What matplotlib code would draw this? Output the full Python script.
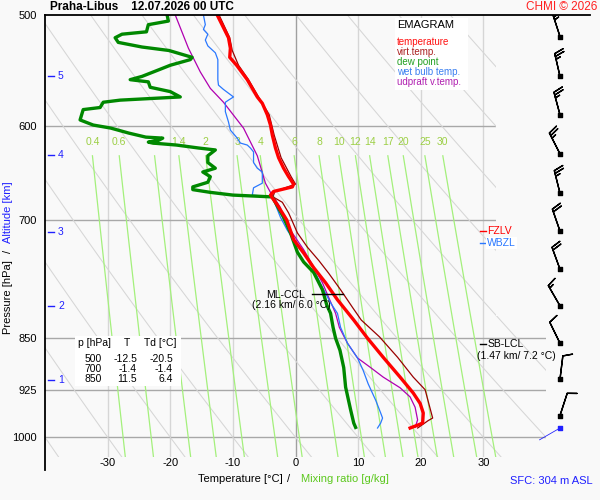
import numpy as np
import matplotlib
matplotlib.use('Agg')
import matplotlib.pyplot as plt
from matplotlib.lines import Line2D
from matplotlib.patches import Polygon, Rectangle
import matplotlib.transforms as mtransforms
from matplotlib.ticker import NullLocator

plt.rcParams['font.family'] = ['Liberation Sans', 'DejaVu Sans']

# ---------------- data ----------------
temp_p = [500, 519, 528, 536, 543, 556, 572, 578, 589, 599, 609, 622, 632, 643, 652,
          660, 663, 668, 672, 675, 683, 692, 700, 723, 739, 757, 776, 798, 825, 850,
          877, 906, 930, 946, 961, 977, 980, 985]
temp_t = [-12.5, -10.7, -10.4, -10.5, -9.4, -7.7, -6.1, -5.3, -4.5, -4.0, -3.7, -3.2, -2.7, -1.9, -1.1,
          -0.3, -0.5, -3.5, -4.0, -3.7, -2.9, -2.1, -1.4, -0.3, 1.3, 2.9, 4.8, 6.7, 9.3, 11.5,
          14.0, 16.7, 18.8, 19.9, 20.4, 20.3, 19.6, 18.3]

tv_p = [500, 519, 530, 543, 556, 572, 589, 609, 632, 652, 660, 668, 674, 680, 692,
        700, 715, 732, 748, 764, 785, 808, 825, 848, 877, 906, 925, 969, 973, 985]
tv_t = [-12.2, -10.5, -10.1, -9.1, -7.5, -5.9, -4.2, -3.4, -2.3, -0.7, 0.0, -3.3, -3.6, -2.1, -1.1,
        -0.6, 0.3, 1.9, 3.7, 5.3, 7.2, 9.1, 10.5, 13.4, 16.3, 18.8, 20.7, 21.9, 21.2, 19.5]

td_p = [500, 505, 508, 514, 516, 519, 523, 527, 530, 536, 538, 543, 547, 553, 556,
        558, 563, 567, 572, 573, 575, 577, 582, 584, 594, 599, 602, 607, 611, 612,
        614, 616, 617, 619, 622, 624, 630, 637, 643, 647, 652, 658, 663, 666, 669,
        672, 674, 697, 715, 738, 750, 763, 785, 805, 816, 835, 850, 867, 892, 921,
        956, 977, 984]
td_t = [-20.5, -20.3, -23.5, -23.8, -27.7, -28.8, -28.3, -24.5, -20.2, -16.5, -16.8, -20.0, -21.8, -24.5, -26.4,
        -23.5, -23.2, -20.0, -18.4, -21.6, -28.0, -30.7, -31.2, -33.9, -34.4, -32.3, -29.5, -26.6, -23.9, -21.2,
        -21.8, -23.5, -22.8, -19.0, -15.5, -12.8, -14.0, -14.0, -12.8, -14.8, -13.6, -14.0, -16.4, -16.4, -13.6,
        -10.0, -3.7, -1.9, -0.8, 0.3, 1.3, 2.9, 4.3, 5.0, 5.6, 6.0, 6.4, 7.1, 7.7, 8.0,
        8.8, 9.3, 9.6]

wb_p = [500, 508, 512, 516, 521, 526, 532, 538, 556, 561, 565, 572, 575, 577, 586,
        596, 604, 612, 617, 619, 622, 626, 637, 643, 647, 659, 664, 672, 674, 697,
        712, 723, 735, 751, 769, 785, 802, 816, 835, 857, 878, 896, 916, 941, 961,
        969, 977, 985]
wb_t = [-14.7, -14.4, -14.7, -14.0, -14.4, -14.0, -12.8, -12.4, -12.4, -12.3, -11.5, -9.9, -10.7, -11.2, -11.2,
        -10.7, -10.4, -9.3, -8.8, -7.7, -7.2, -6.7, -6.7, -6.1, -5.3, -5.3, -6.7, -6.9, -3.7, -2.4,
        -1.3, -0.3, 0.8, 2.4, 3.5, 4.5, 5.6, 6.7, 7.2, 8.3, 9.9, 10.8, 11.6, 12.8, 13.6,
        13.9, 13.6, 13.1]

upd_p = [500, 528, 549, 564, 577, 602, 630, 659, 669, 674, 686, 700, 712, 735, 756,
         776, 795, 816, 835, 857, 878, 892, 906, 922, 936, 952, 972, 984]
upd_t = [-19.2, -17.1, -15.2, -13.6, -11.5, -8.3, -6.1, -4.8, -4.0, -3.5, -2.4, -1.9, -0.8, 1.3, 2.9,
         4.3, 5.3, 6.4, 7.0, 8.3, 9.9, 12.0, 14.0, 16.7, 18.3, 19.1, 19.5, 19.1]

# wind (barbs)
wind_p = [518, 553, 589, 628, 670, 713, 759, 806, 857, 909, 965]
wind_dir = [342, 347, 345, 333, 346, 341, 340, 330, 334, 7, 18]
wind_spd = [25, 25, 25, 25, 25, 20, 20, 15, 10, 10, 10]
sfc_wind_p = 985
sfc_wind_dir = 240
sfc_wind_spd = 3

# axes ticks / reference lines
pressure_ticks = [500, 600, 700, 850, 925, 1000]
temp_ticks = [-30, -20, -10, 0, 10, 20, 30]
mixing_ratios = [0.4, 0.6, 1, 1.4, 2, 3, 4, 6, 8, 10, 12, 14, 17, 20, 25, 30]
mixing_labels = ['0.4', '0.6', '1', '1.4', '2', '3', '4', '6', '8', '10', '12', '14', '17', '20', '25', '30']
dry_thetas = list(range(-40, 101, 10))

alt_km = [1, 2, 3, 4, 5]
alt_p = [911, 806, 714, 629, 553]

table_p = [500, 700, 850]
table_t = [-12.5, -1.4, 11.5]
table_td = [-20.5, -1.4, 6.4]

ccl_p = 791
ccl_text = '(2.16 km/ 6.0 °C)'
lcl_p = 858
lcl_text = '(1.47 km/ 7.2 °C)'
fzlv_p = 713
wbzl_p = 727

# ---------------- figure ----------------
W, H = 600, 500
def fx(px):
    return px / W
def fy(py):
    return 1 - py / H

bg = '#f9f9f9'
fig = plt.figure(figsize=(6, 5), dpi=100)
fig.patch.set_facecolor(bg)

ax = fig.add_axes([fx(45), fy(457), fx(546) - fx(45), fy(15) - fy(457)])
ax.set_facecolor('none')
ax.set_yscale('log')
ax.set_xlim(-40, 40)
ax.set_ylim(1033, 500)
for s in ax.spines.values():
    s.set_visible(False)
ax.yaxis.set_minor_locator(NullLocator())
ax.set_yticks(pressure_ticks)
ax.set_yticklabels([str(p) for p in pressure_ticks])
ax.set_xticks(temp_ticks)
ax.set_xticklabels([str(t) for t in temp_ticks])
ax.tick_params(axis='y', length=0, labelsize=8, pad=6)
ax.tick_params(axis='x', length=0, labelsize=8, pad=1)

clip = Polygon([(-40, 500), (32, 500), (32, 820), (40, 820), (40, 1033), (-40, 1033)],
               closed=True, transform=ax.transData, facecolor='none', edgecolor='none')
ax.add_patch(clip)

# vertical grid
for t in temp_ticks:
    ax.axvline(t, color='#a0a0a0' if t == 0 else '#d6d6d6', lw=1.0, zorder=1)
# horizontal grid
for p in pressure_ticks[1:]:
    ln = ax.axhline(p, color='#a8a8a8', lw=1.0, zorder=1)
    ln.set_clip_path(clip)

# dry adiabats
pp = np.geomspace(500, 1033, 120)
for th in dry_thetas:
    tt = (th + 273.15) * (pp / 1000.0) ** 0.286 - 273.15
    l, = ax.plot(tt, pp, color='#d6d6d6', lw=0.75, zorder=1)
    l.set_clip_path(clip)

# mixing ratio lines
def td_from_w(w, p):
    e = w * p / (622.0 + w)
    a = np.log(e / 6.112)
    return 243.5 * a / (17.67 - a)

pm = np.geomspace(630, 1033, 50)
for w, lab in zip(mixing_ratios, mixing_labels):
    l, = ax.plot(td_from_w(w, pm), pm, color='#a4f07c', lw=0.9, zorder=1.5)
    l.set_clip_path(clip)
    ax.text(td_from_w(w, 630), 616, lab, color='#9ccf45', fontsize=7.5,
            ha='center', va='center', zorder=2)

# profiles
ax.plot(tv_t, tv_p, color='#9a0000', lw=0.9, zorder=3)
ax.plot(upd_t, upd_p, color='#b000b0', lw=0.9, zorder=3)
ax.plot(wb_t, wb_p, color='#2a78ff', lw=0.9, zorder=3)
ax.plot(td_t, td_p, color='#008800', lw=2.4, zorder=4, solid_joinstyle='round')
ax.plot(temp_t, temp_p, color='#ff0000', lw=2.4, zorder=5, solid_joinstyle='round')

# altitude marks
btr = mtransforms.blended_transform_factory(ax.transAxes, ax.transData)
for km, p in zip(alt_km, alt_p):
    ax.plot([0.006, 0.017], [p, p], color='#2020ff', lw=1.0, transform=btr, zorder=6)
    ax.text(0.026, p, str(km), color='#2020ff', fontsize=7.5, ha='left', va='center',
            transform=btr, zorder=6)

# ML-CCL
ax.plot([2.6, 7.6], [ccl_p, ccl_p], color='black', lw=1.0, zorder=6)
ax.text(-1.6, 792, 'ML-CCL', fontsize=7.5, ha='center', va='center', zorder=6)
ax.text(-0.6, 805, ccl_text, fontsize=7.5, ha='center', va='center', zorder=6)

# SB-LCL
ax.plot([29.5, 30.4], [lcl_p, lcl_p], color='black', lw=1.0, zorder=6, clip_on=False)
ax.text(30.7, lcl_p, 'SB-LCL', fontsize=7.5, ha='left', va='center', zorder=6)
ax.text(35.2, 875, lcl_text, fontsize=7.5, ha='center', va='center', zorder=6)

# FZLV / WBZL
ax.plot([29.5, 30.4], [fzlv_p, fzlv_p], color='red', lw=1.0, zorder=6)
ax.text(30.6, fzlv_p, 'FZLV', color='red', fontsize=7.5, ha='left', va='center', zorder=6)
ax.plot([29.5, 30.4], [wbzl_p, wbzl_p], color='#2a78ff', lw=1.0, zorder=7)
ax.text(30.6, wbzl_p, 'WBZL', color='#2a78ff', fontsize=7.5, ha='left', va='center', zorder=7,
        bbox=dict(facecolor='white', edgecolor='none', pad=0.5))

# frame lines
fig.add_artist(Line2D([fx(45), fx(45)], [fy(15), fy(470)], color='black', lw=1.3))
fig.add_artist(Line2D([fx(45), fx(590)], [fy(15), fy(15)], color='black', lw=1.3))

# wind barbs
axw = fig.add_axes([fx(520), fy(457), fx(600) - fx(520), fy(15) - fy(457)])
axw.set_yscale('log')
axw.set_ylim(1033, 500)
axw.set_xlim(0, 1)
axw.axis('off')
axw.patch.set_visible(False)
d = np.deg2rad(wind_dir)
u = -np.array(wind_spd) * np.sin(d)
v = -np.array(wind_spd) * np.cos(d)
xb = np.full(len(wind_p), 0.5)
axw.barbs(xb, wind_p, u, v, length=5.8, color='black', linewidth=1.0)
axw.scatter(xb, wind_p, marker='s', s=7, color='black', zorder=5)
ds = np.deg2rad(sfc_wind_dir)
us = -sfc_wind_spd * np.sin(ds)
vs = -sfc_wind_spd * np.cos(ds)
axw.quiver([0.5], [sfc_wind_p], [-us], [-vs], angles='uv', pivot='tail',
           scale_units='inches', units='inches', scale=sfc_wind_spd / 0.24, width=0.008,
           headwidth=0, headlength=0, headaxislength=0, color='#2020ff')
axw.scatter([0.5], [sfc_wind_p], marker='s', s=7, color='#2020ff', zorder=5)

# legend box
fig.add_artist(Rectangle((fx(395), fy(90)), fx(468) - fx(395), fy(18) - fy(90),
                         transform=fig.transFigure, facecolor='white', edgecolor='none', zorder=8))
fig.text(fx(397), fy(25), 'EMAGRAM', fontsize=8, ha='left', va='center', zorder=9)
leg = [('temperature', '#ff1010'), ('virt.temp.', '#aa2020'), ('dew point', '#22a022'),
       ('wet bulb temp.', '#3a7ff0'), ('udpraft v.temp.', '#b020b0')]
for i, (txt, col) in enumerate(leg):
    fig.text(fx(397), fy(42 + 10 * i), txt, color=col, fontsize=7, ha='left', va='center', zorder=9)

# table
fig.add_artist(Rectangle((fx(75), fy(386)), fx(181) - fx(75), fy(336) - fy(386),
                         transform=fig.transFigure, facecolor='white', edgecolor='none', zorder=8))
fig.text(fx(78), fy(343), 'p [hPa]', fontsize=7.5, ha='left', va='center', zorder=9)
fig.text(fx(127), fy(343), 'T', fontsize=7.5, ha='center', va='center', zorder=9)
fig.text(fx(144), fy(343), 'Td [°C]', fontsize=7.5, ha='left', va='center', zorder=9)
for i, (p, t, td) in enumerate(zip(table_p, table_t, table_td)):
    yy = fy(359 + 10 * i)
    fig.text(fx(102), yy, str(p), fontsize=7.5, ha='right', va='center', zorder=9)
    fig.text(fx(137), yy, f'{t:.1f}', fontsize=7.5, ha='right', va='center', zorder=9)
    fig.text(fx(173), yy, f'{td:.1f}', fontsize=7.5, ha='right', va='center', zorder=9)

# titles / labels
fig.text(fx(50), fy(7), 'Praha-Libus    12.07.2026 00 UTC', fontsize=8.5, weight='bold',
         ha='left', va='center')
fig.text(fx(597), fy(7), 'CHMI © 2026', fontsize=8.5, color='#ff2020', ha='right', va='center')
fig.text(fx(8), fy(297), 'Pressure [hPa]', fontsize=8, rotation=90, ha='center', va='center')
fig.text(fx(8), fy(251), '/', fontsize=8, rotation=90, ha='center', va='center')
fig.text(fx(8), fy(212), 'Altitude [km]', fontsize=8, rotation=90, ha='center', va='center',
         color='#2020ff')
fig.text(fx(240), fy(479), 'Temperature [°C]', fontsize=8, ha='center', va='center')
fig.text(fx(289), fy(479), '/', fontsize=8, ha='center', va='center')
fig.text(fx(345), fy(479), 'Mixing ratio [g/kg]', fontsize=8, ha='center', va='center',
         color='#5cc81e')
fig.text(fx(551), fy(481), 'SFC: 304 m ASL', fontsize=8, ha='center', va='center', color='#2020ff')

fig.savefig('out.png', dpi=100, facecolor=bg)
